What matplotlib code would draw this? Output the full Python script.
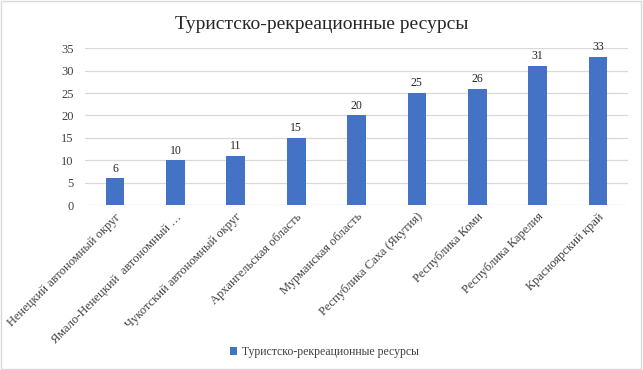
import matplotlib.pyplot as plt
from matplotlib.patches import Rectangle

plt.rcParams['font.family'] = ['Liberation Serif', 'DejaVu Serif']

regions = ['Ненецкий автономный округ', 'Ямало-Ненецкий  автономный …',
           'Чукотский автономный округ', 'Архангельская область',
           'Мурманская область', 'Республика Саха (Якутия)',
           'Республика Коми', 'Республика Карелия', 'Красноярский край']
values = [6, 10, 11, 15, 20, 25, 26, 31, 33]
series_name = 'Туристско-рекреационные ресурсы'
yticks = [0, 5, 10, 15, 20, 25, 30, 35]

fig = plt.figure(figsize=(6.43, 3.70), dpi=100)
ax = fig.add_axes([0.132, 0.445, 0.845, 0.425])

x = list(range(len(regions)))
bars = ax.bar(x, values, width=0.31, color='#4472C4', label=series_name, zorder=3)
for xi, v in zip(x, values):
    ax.text(xi, v + 0.8, str(v), ha='center', va='bottom', fontsize=8.5, color='#262626')

ax.set_xlim(-0.5, len(regions) - 0.5)
ax.set_ylim(0, 35)
ax.set_yticks(yticks)
ax.yaxis.grid(True, color='#D9D9D9', linewidth=0.9, zorder=0)
for s in ax.spines.values():
    s.set_visible(False)
ax.tick_params(axis='both', length=0, labelsize=9, colors='#404040')
ax.tick_params(axis='y', pad=8)
ax.set_xticks(x)
ax.set_xticklabels(regions, rotation=45, ha='right', rotation_mode='anchor')
ax.tick_params(axis='x', pad=4)

fig.text(0.5, 0.935, series_name, ha='center', va='center', fontsize=14, color='#262626')

leg = fig.legend(handles=[bars], labels=[series_name], loc='center',
                 bbox_to_anchor=(0.505, 0.048), frameon=False, fontsize=8.5,
                 handlelength=0.6, handleheight=0.6, handletextpad=0.4)
for t in leg.get_texts():
    t.set_color('#404040')

fig.add_artist(Rectangle((0.002, 0.003), 0.995, 0.993, transform=fig.transFigure,
                         fill=False, edgecolor='#D9D9D9', linewidth=1))

fig.savefig('out.png', dpi=100)
